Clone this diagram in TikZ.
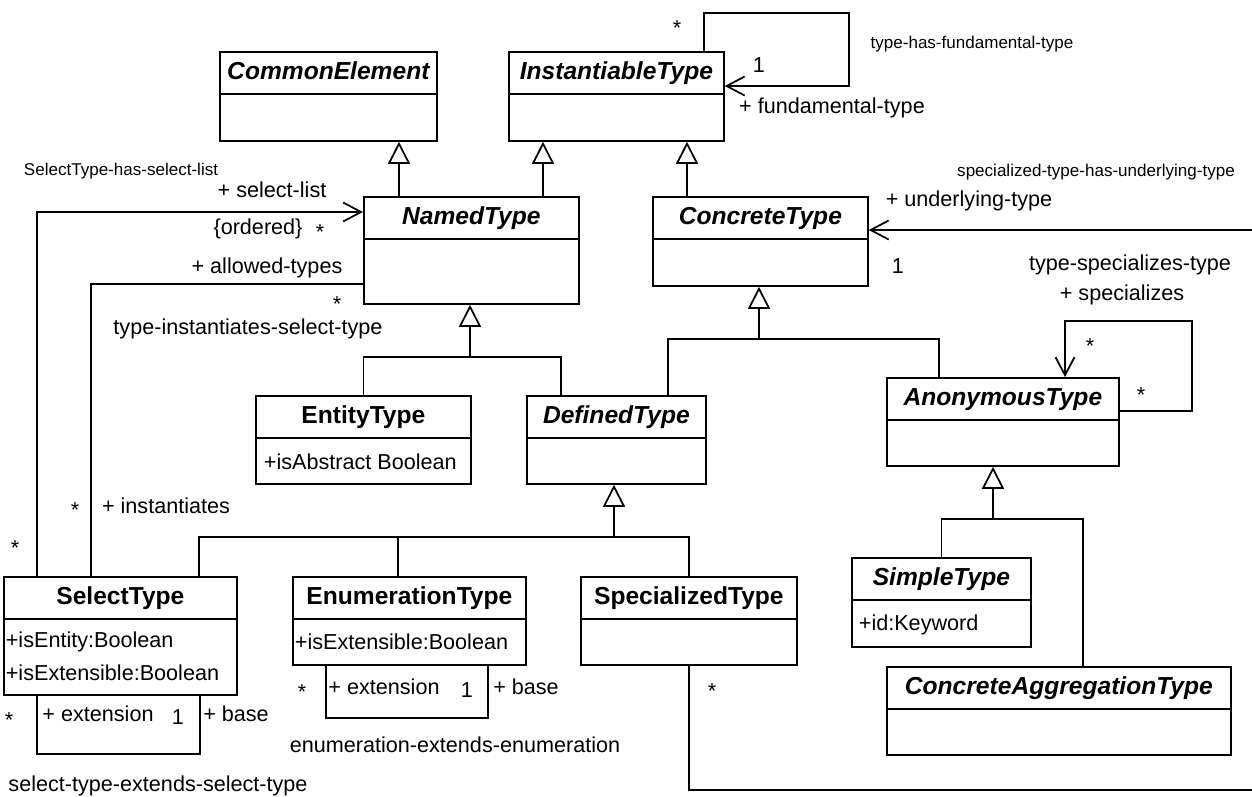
\documentclass[tikz,border=0pt]{standalone}
\usepackage{fontspec}
\setmainfont{Liberation Sans}
\usetikzlibrary{arrows.meta}

\begin{document}
\begin{tikzpicture}[
  x=0.02cm, y=-0.02cm, line width=1pt,
  cls/.style 2 args={draw,anchor=north west,inner sep=0pt,
    minimum width=#1*0.02cm,minimum height=#2*0.02cm},
  abst/.style={inner sep=0pt,text height=0.72em,text depth=0pt,
    font=\fontsize{14}{16}\selectfont\bfseries\itshape},
  conc/.style={inner sep=0pt,text height=0.72em,text depth=0pt,
    font=\fontsize{14}{16}\selectfont\bfseries},
  attr/.style={anchor=west,inner sep=0pt,font=\fontsize{12.3}{14}\selectfont},
  lbl/.style={inner sep=0pt,text height=0.72em,text depth=0.21em,
    font=\fontsize{12.3}{14}\selectfont},
  slbl/.style={inner sep=0pt,text height=0.72em,text depth=0.21em,
    font=\fontsize{9.7}{11}\selectfont},
  mult/.style={inner sep=0pt,font=\fontsize{12.3}{14}\selectfont},
  gen/.style={-{Triangle[open,length=0.44cm,width=0.44cm]}},
  assoc/.style={-{Straight Barb[length=0.36cm,width=0.38cm]}}
  ]
\clip (0,0) rectangle (1252,796);
% classes
\node[cls={217}{89}]  (CE)   at (219,51)  {};
\node[cls={215}{89}]  (IT)   at (508,51)  {};
\node[cls={215}{107}] (NT)   at (363,196) {};
\node[cls={215}{89}]  (CT)   at (652,196) {};
\node[cls={215}{88}]  (ET)   at (255,395) {};
\node[cls={179}{88}]  (DT)   at (526,395) {};
\node[cls={232}{88}]  (AT)   at (886,377) {};
\node[cls={233}{118}] (SelT) at (3,576)   {};
\node[cls={233}{88}]  (EnT)  at (292,576) {};
\node[cls={216}{88}]  (SpT)  at (580,576) {};
\node[cls={179}{89}]  (SimT) at (851,557) {};
\node[cls={344}{88}]  (CAT)  at (886,666) {};
% header lines
\foreach \c in {CE,IT,NT,CT,ET,DT,AT,SelT,EnT,SpT,SimT,CAT}
  \draw ([yshift=-0.86cm]\c.north west) -- ([yshift=-0.86cm]\c.north east);
% class names
\path (CE.north) ++(0,22) node[abst] (nCE) {CommonElement};
\path (IT.north) ++(0,22) node[abst] (nIT) {InstantiableType};
\path (NT.north) ++(0,22) node[abst] (nNT) {NamedType};
\path (CT.north) ++(0,22) node[abst] (nCT) {ConcreteType};
\path (ET.north) ++(0,22) node[conc] (nET) {EntityType};
\path (DT.north) ++(0,22) node[abst] (nDT) {DefinedType};
\path (AT.north) ++(0,22) node[abst] (nAT) {AnonymousType};
\path (SelT.north) ++(0,22) node[conc] (nSelT) {SelectType};
\path (EnT.north) ++(0,22) node[conc] (nEnT) {EnumerationType};
\path (SpT.north) ++(0,22) node[conc] (nSpT) {SpecializedType};
\path (SimT.north) ++(0,22) node[abst] (nSimT) {SimpleType};
\path (CAT.north) ++(0,22) node[abst] (nCAT) {ConcreteAggregationType};
% attributes
\path (ET.north west) ++(8,67) node[attr] (aET) {+isAbstract Boolean};
\path (SelT.north west) ++(2,66) node[attr] (aSelT1) {+isEntity:Boolean};
\path (SelT.north west) ++(2,97) node[attr] (aSelT2) {+isExtensible:Boolean};
\path (EnT.north west) ++(2,66) node[attr] (aEnT) {+isExtensible:Boolean};
\path (SimT.north west) ++(7,68) node[attr] (aSimT) {+id:Keyword};
% generalizations
\draw[gen] (NT.north -| 399,0) -- (CE.south -| 399,0);
\draw[gen] (NT.north -| 543,0) -- (IT.south -| 543,0);
\draw[gen] (CT.north -| 687,0) -- (IT.south -| 687,0);
\coordinate (jC) at (759,339);
\draw[gen] (jC) -- (jC |- CT.south);
\draw (DT.north -| 668,0) |- (jC) -| (AT.north -| 939,0);
\coordinate (jN) at (470,357);
\draw[gen] (jN) -- (jN |- NT.south);
\draw (ET.north) |- (jN) -| (DT.north -| 561,0);
\coordinate (jD) at (614,537);
\draw[gen] (jD) -- (jD |- DT.south);
\draw (SelT.north -| 199,0) |- (jD) -| (SpT.north);
\draw (EnT.north -| 398,0) -- (jD -| 398,0);
\coordinate (jA) at (993,519);
\draw[gen] (jA) -- (jA |- AT.south);
\draw (SimT.north) |- (jA) -| (CAT.north -| 1083,0);
% associations
\draw[assoc] (IT.north -| 704,0) |- (849,13) |- (IT.east |- 0,86);
\draw[assoc] (SelT.north -| 37,0) |- (NT.west |- 0,212);
\draw (SelT.north -| 91,0) |- (NT.west |- 0,284);
\draw[assoc] (SpT.south) |- (1270,790) |- (CT.east |- 0,230);
\draw[assoc] (AT.east |- 0,411) -| (1192,321) -| (AT.north -| 1065,0);
\draw (SelT.south -| 37,0) |- (200,754) -- (SelT.south -| 200,0);
\draw (EnT.south -| 326,0) |- (488,718) -- (EnT.south -| 488,0);
% association labels
\node[mult] (m1) at (677,28) {*};
\node[mult] (m2) at (759,65) {1};
\node[lbl]  (r1) at (832,109) {+ fundamental-type};
\node[slbl] (s1) at (972,44) {type-has-fundamental-type};
\node[slbl] (s2) at (121,171) {SelectType-has-select-list};
\node[lbl]  (r2) at (272,193) {+ select-list};
\node[lbl]  (o1) at (258,230) {\{ordered\}};
\node[mult] (m3) at (320,232) {*};
\node[lbl]  (r3) at (267,269) {+ allowed-types};
\node[mult] (m4) at (337,304) {*};
\node[lbl]  (s3) at (248,330) {type-instantiates-select-type};
\node[mult] (m5) at (75,510) {*};
\node[lbl]  (r4) at (166,509) {+ instantiates};
\node[mult] (m6) at (15,548) {*};
\node[slbl] (s4) at (1096,172) {specialized-type-has-underlying-type};
\node[lbl]  (r5) at (969,202) {+ underlying-type};
\node[mult] (m7) at (898,266) {1};
\node[mult] (m8) at (712,691) {*};
\node[lbl]  (s5) at (1130,266) {type-specializes-type};
\node[lbl]  (r6) at (1122,296) {+ specializes};
\node[mult] (m9) at (1090,346) {*};
\node[mult] (m10) at (1141,395) {*};
\node[mult] (m11) at (9,720) {*};
\node[lbl]  (r7) at (98,717) {+ extension};
\node[mult] (m12) at (178,717) {1};
\node[lbl]  (r8) at (236,717) {+ base};
\node[lbl]  (s6) at (158,787) {select-type-extends-select-type};
\node[mult] (m13) at (302,692) {*};
\node[lbl]  (r9) at (384,690) {+ extension};
\node[mult] (m14) at (467,690) {1};
\node[lbl]  (r10) at (526,690) {+ base};
\node[lbl]  (s7) at (455,748) {enumeration-extends-enumeration};
\end{tikzpicture}
\end{document}
